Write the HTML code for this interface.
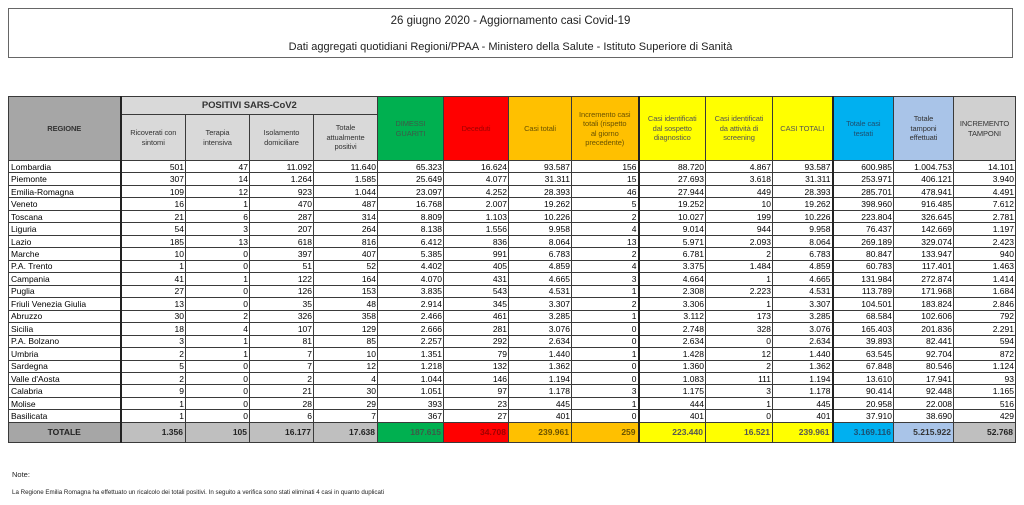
<!DOCTYPE html>
<html><head><meta charset="utf-8">
<style>
html,body{margin:0;padding:0;background:#fff;}
body{width:1024px;height:505px;position:relative;overflow:hidden;font-family:"Liberation Sans",Arial,sans-serif;}
.tbox{position:absolute;left:8px;top:8px;width:1003px;height:48px;border:1.5px solid #666;}
.t1{position:absolute;left:0;right:0;top:5px;text-align:center;font-size:11.5px;color:#222;line-height:14px;}
.t2{position:absolute;left:0;right:0;top:31px;text-align:center;font-size:11px;color:#222;line-height:14px;}
table{position:absolute;left:8px;top:96px;border-collapse:collapse;table-layout:fixed;width:1007px;border:1.5px solid #333;}
td,th{border:1px solid #3a3a3a;padding:0 2px;overflow:hidden;white-space:nowrap;}
th{font-weight:normal;font-size:7.5px;line-height:9.5px;color:#333;text-align:center;vertical-align:middle;padding:0 1px;letter-spacing:-0.1px;}
tr.h1{height:18px;} tr.h2{height:46px;}
tr.d{height:12.476px;}
tr.d td{font-size:8.5px;line-height:10px;color:#000;text-align:right;background:#fff;padding:0 1px 0 2px;}
tr.d td:first-child{text-align:left;}
tr.tot{height:20px;}
tr.tot td{font-size:8.5px;font-weight:bold;text-align:right;color:#222;border-top:1.5px solid #333;}
tr.tot td:first-child{text-align:center;}
.br2{border-right:2px solid #222 !important;}
.cg{background:#a6a6a6;} .cl{background:#d9d9d9;} .ct{background:#bfbfbf;}
.gr{background:#00b050;color:#3d5a48 !important;} .rd{background:#ff0000;color:#a00000 !important;}
.or{background:#ffc000;color:#6b5300 !important;} .ye{background:#ffff00;color:#555 !important;}
.bl{background:#00b0f0;color:#1d4f70 !important;} .lb{background:#a9c4e8;color:#333 !important;}
.gy{background:#d0d0d0;}
.note1{position:absolute;left:12px;top:470px;font-size:7.5px;color:#222;}
.note2{position:absolute;left:12px;top:489px;font-size:6.2px;color:#222;white-space:nowrap;}
</style></head><body>
<div class="tbox">
<div class="t1">26 giugno 2020 - Aggiornamento casi Covid-19</div>
<div class="t2">Dati aggregati quotidiani Regioni/PPAA - Ministero della Salute - Istituto Superiore di Sanità</div>
</div>
<table>
<colgroup>
<col style="width:112px"><col style="width:65px"><col style="width:64px"><col style="width:64px"><col style="width:64px"><col style="width:66px"><col style="width:65px"><col style="width:63px"><col style="width:67px"><col style="width:67px"><col style="width:67px"><col style="width:60px"><col style="width:61px"><col style="width:60px"><col style="width:62px">
</colgroup>
<tr class="h1">
<th rowspan="2" class="cg br2" style="font-weight:bold;font-size:7.5px;">REGIONE</th>
<th colspan="4" class="cl" style="font-weight:bold;font-size:9.5px;color:#333;">POSITIVI SARS-CoV2</th>
<th rowspan="2" class="gr">DIMESSI<br>GUARITI</th>
<th rowspan="2" class="rd">Deceduti</th>
<th rowspan="2" class="or">Casi totali</th>
<th rowspan="2" class="or br2">Incremento casi<br>totali (rispetto<br>al giorno<br>precedente)</th>
<th rowspan="2" class="ye">Casi identificati<br>dal sospetto<br>diagnostico</th>
<th rowspan="2" class="ye">Casi identificati<br>da attività di<br>screening</th>
<th rowspan="2" class="ye br2">CASI TOTALI</th>
<th rowspan="2" class="bl">Totale casi<br>testati</th>
<th rowspan="2" class="lb">Totale<br>tamponi<br>effettuati</th>
<th rowspan="2" class="gy">INCREMENTO<br>TAMPONI</th>
</tr>
<tr class="h2">
<th class="cl">Ricoverati con<br>sintomi</th>
<th class="cl">Terapia<br>intensiva</th>
<th class="cl">Isolamento<br>domiciliare</th>
<th class="cl">Totale<br>attualmente<br>positivi</th>
</tr>
<tr class="d"><td class="br2">Lombardia</td><td>501</td><td>47</td><td>11.092</td><td>11.640</td><td>65.323</td><td>16.624</td><td>93.587</td><td class="br2">156</td><td>88.720</td><td>4.867</td><td class="br2">93.587</td><td>600.985</td><td>1.004.753</td><td>14.101</td></tr>
<tr class="d"><td class="br2">Piemonte</td><td>307</td><td>14</td><td>1.264</td><td>1.585</td><td>25.649</td><td>4.077</td><td>31.311</td><td class="br2">15</td><td>27.693</td><td>3.618</td><td class="br2">31.311</td><td>253.971</td><td>406.121</td><td>3.940</td></tr>
<tr class="d"><td class="br2">Emilia-Romagna</td><td>109</td><td>12</td><td>923</td><td>1.044</td><td>23.097</td><td>4.252</td><td>28.393</td><td class="br2">46</td><td>27.944</td><td>449</td><td class="br2">28.393</td><td>285.701</td><td>478.941</td><td>4.491</td></tr>
<tr class="d"><td class="br2">Veneto</td><td>16</td><td>1</td><td>470</td><td>487</td><td>16.768</td><td>2.007</td><td>19.262</td><td class="br2">5</td><td>19.252</td><td>10</td><td class="br2">19.262</td><td>398.960</td><td>916.485</td><td>7.612</td></tr>
<tr class="d"><td class="br2">Toscana</td><td>21</td><td>6</td><td>287</td><td>314</td><td>8.809</td><td>1.103</td><td>10.226</td><td class="br2">2</td><td>10.027</td><td>199</td><td class="br2">10.226</td><td>223.804</td><td>326.645</td><td>2.781</td></tr>
<tr class="d"><td class="br2">Liguria</td><td>54</td><td>3</td><td>207</td><td>264</td><td>8.138</td><td>1.556</td><td>9.958</td><td class="br2">4</td><td>9.014</td><td>944</td><td class="br2">9.958</td><td>76.437</td><td>142.669</td><td>1.197</td></tr>
<tr class="d"><td class="br2">Lazio</td><td>185</td><td>13</td><td>618</td><td>816</td><td>6.412</td><td>836</td><td>8.064</td><td class="br2">13</td><td>5.971</td><td>2.093</td><td class="br2">8.064</td><td>269.189</td><td>329.074</td><td>2.423</td></tr>
<tr class="d"><td class="br2">Marche</td><td>10</td><td>0</td><td>397</td><td>407</td><td>5.385</td><td>991</td><td>6.783</td><td class="br2">2</td><td>6.781</td><td>2</td><td class="br2">6.783</td><td>80.847</td><td>133.947</td><td>940</td></tr>
<tr class="d"><td class="br2">P.A. Trento</td><td>1</td><td>0</td><td>51</td><td>52</td><td>4.402</td><td>405</td><td>4.859</td><td class="br2">4</td><td>3.375</td><td>1.484</td><td class="br2">4.859</td><td>60.783</td><td>117.401</td><td>1.463</td></tr>
<tr class="d"><td class="br2">Campania</td><td>41</td><td>1</td><td>122</td><td>164</td><td>4.070</td><td>431</td><td>4.665</td><td class="br2">3</td><td>4.664</td><td>1</td><td class="br2">4.665</td><td>131.984</td><td>272.874</td><td>1.414</td></tr>
<tr class="d"><td class="br2">Puglia</td><td>27</td><td>0</td><td>126</td><td>153</td><td>3.835</td><td>543</td><td>4.531</td><td class="br2">1</td><td>2.308</td><td>2.223</td><td class="br2">4.531</td><td>113.789</td><td>171.968</td><td>1.684</td></tr>
<tr class="d"><td class="br2">Friuli Venezia Giulia</td><td>13</td><td>0</td><td>35</td><td>48</td><td>2.914</td><td>345</td><td>3.307</td><td class="br2">2</td><td>3.306</td><td>1</td><td class="br2">3.307</td><td>104.501</td><td>183.824</td><td>2.846</td></tr>
<tr class="d"><td class="br2">Abruzzo</td><td>30</td><td>2</td><td>326</td><td>358</td><td>2.466</td><td>461</td><td>3.285</td><td class="br2">1</td><td>3.112</td><td>173</td><td class="br2">3.285</td><td>68.584</td><td>102.606</td><td>792</td></tr>
<tr class="d"><td class="br2">Sicilia</td><td>18</td><td>4</td><td>107</td><td>129</td><td>2.666</td><td>281</td><td>3.076</td><td class="br2">0</td><td>2.748</td><td>328</td><td class="br2">3.076</td><td>165.403</td><td>201.836</td><td>2.291</td></tr>
<tr class="d"><td class="br2">P.A. Bolzano</td><td>3</td><td>1</td><td>81</td><td>85</td><td>2.257</td><td>292</td><td>2.634</td><td class="br2">0</td><td>2.634</td><td>0</td><td class="br2">2.634</td><td>39.893</td><td>82.441</td><td>594</td></tr>
<tr class="d"><td class="br2">Umbria</td><td>2</td><td>1</td><td>7</td><td>10</td><td>1.351</td><td>79</td><td>1.440</td><td class="br2">1</td><td>1.428</td><td>12</td><td class="br2">1.440</td><td>63.545</td><td>92.704</td><td>872</td></tr>
<tr class="d"><td class="br2">Sardegna</td><td>5</td><td>0</td><td>7</td><td>12</td><td>1.218</td><td>132</td><td>1.362</td><td class="br2">0</td><td>1.360</td><td>2</td><td class="br2">1.362</td><td>67.848</td><td>80.546</td><td>1.124</td></tr>
<tr class="d"><td class="br2">Valle d'Aosta</td><td>2</td><td>0</td><td>2</td><td>4</td><td>1.044</td><td>146</td><td>1.194</td><td class="br2">0</td><td>1.083</td><td>111</td><td class="br2">1.194</td><td>13.610</td><td>17.941</td><td>93</td></tr>
<tr class="d"><td class="br2">Calabria</td><td>9</td><td>0</td><td>21</td><td>30</td><td>1.051</td><td>97</td><td>1.178</td><td class="br2">3</td><td>1.175</td><td>3</td><td class="br2">1.178</td><td>90.414</td><td>92.448</td><td>1.165</td></tr>
<tr class="d"><td class="br2">Molise</td><td>1</td><td>0</td><td>28</td><td>29</td><td>393</td><td>23</td><td>445</td><td class="br2">1</td><td>444</td><td>1</td><td class="br2">445</td><td>20.958</td><td>22.008</td><td>516</td></tr>
<tr class="d"><td class="br2">Basilicata</td><td>1</td><td>0</td><td>6</td><td>7</td><td>367</td><td>27</td><td>401</td><td class="br2">0</td><td>401</td><td>0</td><td class="br2">401</td><td>37.910</td><td>38.690</td><td>429</td></tr>
<tr class="tot"><td class="cg br2">TOTALE</td><td class="ct">1.356</td><td class="ct">105</td><td class="ct">16.177</td><td class="ct">17.638</td><td class="gr">187.615</td><td class="rd">34.708</td><td class="or">239.961</td><td class="or br2">259</td><td class="ye">223.440</td><td class="ye">16.521</td><td class="ye br2">239.961</td><td class="bl">3.169.116</td><td class="lb">5.215.922</td><td class="ct">52.768</td></tr>
</table>
<div class="note1">Note:</div>
<div class="note2">La Regione Emilia Romagna ha effettuato un ricalcolo dei totali positivi. In seguito a verifica sono stati eliminati 4 casi in quanto duplicati</div>
</body></html>
